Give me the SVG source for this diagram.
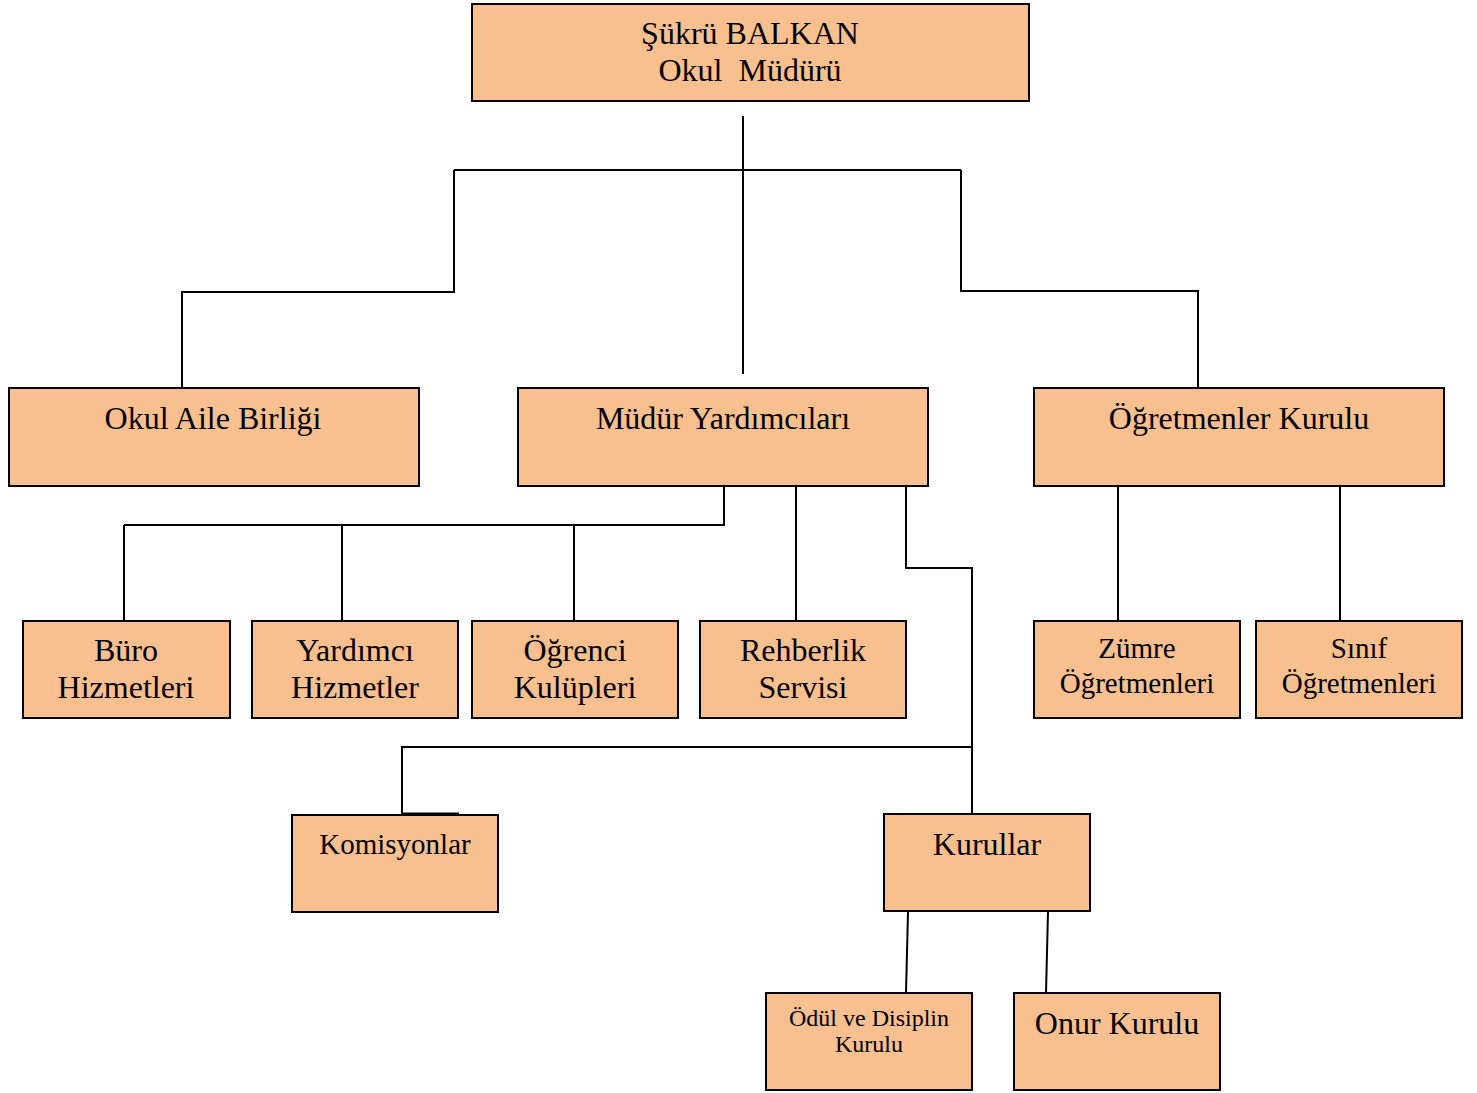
<svg xmlns="http://www.w3.org/2000/svg" width="1477" height="1093" viewBox="0 0 1477 1093">
<style>
.box{fill:#F8BF8F;stroke:#000;stroke-width:2}
.t{font-family:"Liberation Serif","Times New Roman",serif;fill:#000;text-anchor:middle}
.c{fill:none;stroke:#000;stroke-width:2}
</style>
<rect width="1477" height="1093" fill="#fff"/>
<g id="connectors">
<path class="c" d="M743 116V374"/>
<path class="c" d="M454 170H961"/>
<path class="c" d="M454 170V292H182V388"/>
<path class="c" d="M961 170V291H1198V388"/>
<path class="c" d="M724 486V526M124 525H725M124 525V621M342 525V621M574 525V621"/>
<path class="c" d="M796 486V621"/>
<path class="c" d="M906 486V568H972V814"/>
<path class="c" d="M972 747H402V815"/>
<path class="c" d="M402 814H459" style="stroke-width:3"/>
<path class="c" d="M908 912L906 993"/>
<path class="c" d="M1048 912L1046 993"/>
<path class="c" d="M1118 486V621M1340 486V621"/>
</g>
<g id="mudur"><rect class="box" x="472" y="4" width="557" height="97"/>
<text class="t" x="750" y="44" font-size="32">Şükrü BALKAN</text>
<text class="t" x="750" y="81" font-size="32" xml:space="preserve">Okul  Müdürü</text></g>
<g id="aile"><rect class="box" x="9" y="388" width="410" height="98"/>
<text class="t" x="213" y="429" font-size="32">Okul Aile Birliği</text></g>
<g id="yardimci"><rect class="box" x="518" y="388" width="410" height="98"/>
<text class="t" x="723" y="429" font-size="32">Müdür Yardımcıları</text></g>
<g id="ogretmenler"><rect class="box" x="1034" y="388" width="410" height="98"/>
<text class="t" x="1239" y="429" font-size="32">Öğretmenler Kurulu</text></g>
<g id="buro"><rect class="box" x="23" y="621" width="207" height="97"/>
<text class="t" x="126" y="661" font-size="32">Büro</text>
<text class="t" x="126" y="698" font-size="32">Hizmetleri</text></g>
<g id="yardimcihiz"><rect class="box" x="252" y="621" width="206" height="97"/>
<text class="t" x="355" y="661" font-size="32">Yardımcı</text>
<text class="t" x="355" y="698" font-size="32">Hizmetler</text></g>
<g id="kulup"><rect class="box" x="472" y="621" width="206" height="97"/>
<text class="t" x="575" y="661" font-size="32">Öğrenci</text>
<text class="t" x="575" y="698" font-size="32">Kulüpleri</text></g>
<g id="rehberlik"><rect class="box" x="700" y="621" width="206" height="97"/>
<text class="t" x="803" y="661" font-size="32">Rehberlik</text>
<text class="t" x="803" y="698" font-size="32">Servisi</text></g>
<g id="zumre"><rect class="box" x="1034" y="621" width="206" height="97"/>
<text class="t" x="1137" y="658" font-size="29">Zümre</text>
<text class="t" x="1137" y="693" font-size="29">Öğretmenleri</text></g>
<g id="sinif"><rect class="box" x="1256" y="621" width="206" height="97"/>
<text class="t" x="1359" y="658" font-size="29">Sınıf</text>
<text class="t" x="1359" y="693" font-size="29">Öğretmenleri</text></g>
<g id="komisyonlar"><rect class="box" x="292" y="815" width="206" height="97"/>
<text class="t" x="395" y="854" font-size="29">Komisyonlar</text></g>
<g id="kurullar"><rect class="box" x="884" y="814" width="206" height="97"/>
<text class="t" x="987" y="855" font-size="32">Kurullar</text></g>
<g id="odul"><rect class="box" x="766" y="993" width="206" height="97"/>
<text class="t" x="869" y="1026" font-size="24">Ödül ve Disiplin</text>
<text class="t" x="869" y="1052" font-size="24">Kurulu</text></g>
<g id="onur"><rect class="box" x="1014" y="993" width="206" height="97"/>
<text class="t" x="1117" y="1034" font-size="32">Onur Kurulu</text></g>
</svg>
